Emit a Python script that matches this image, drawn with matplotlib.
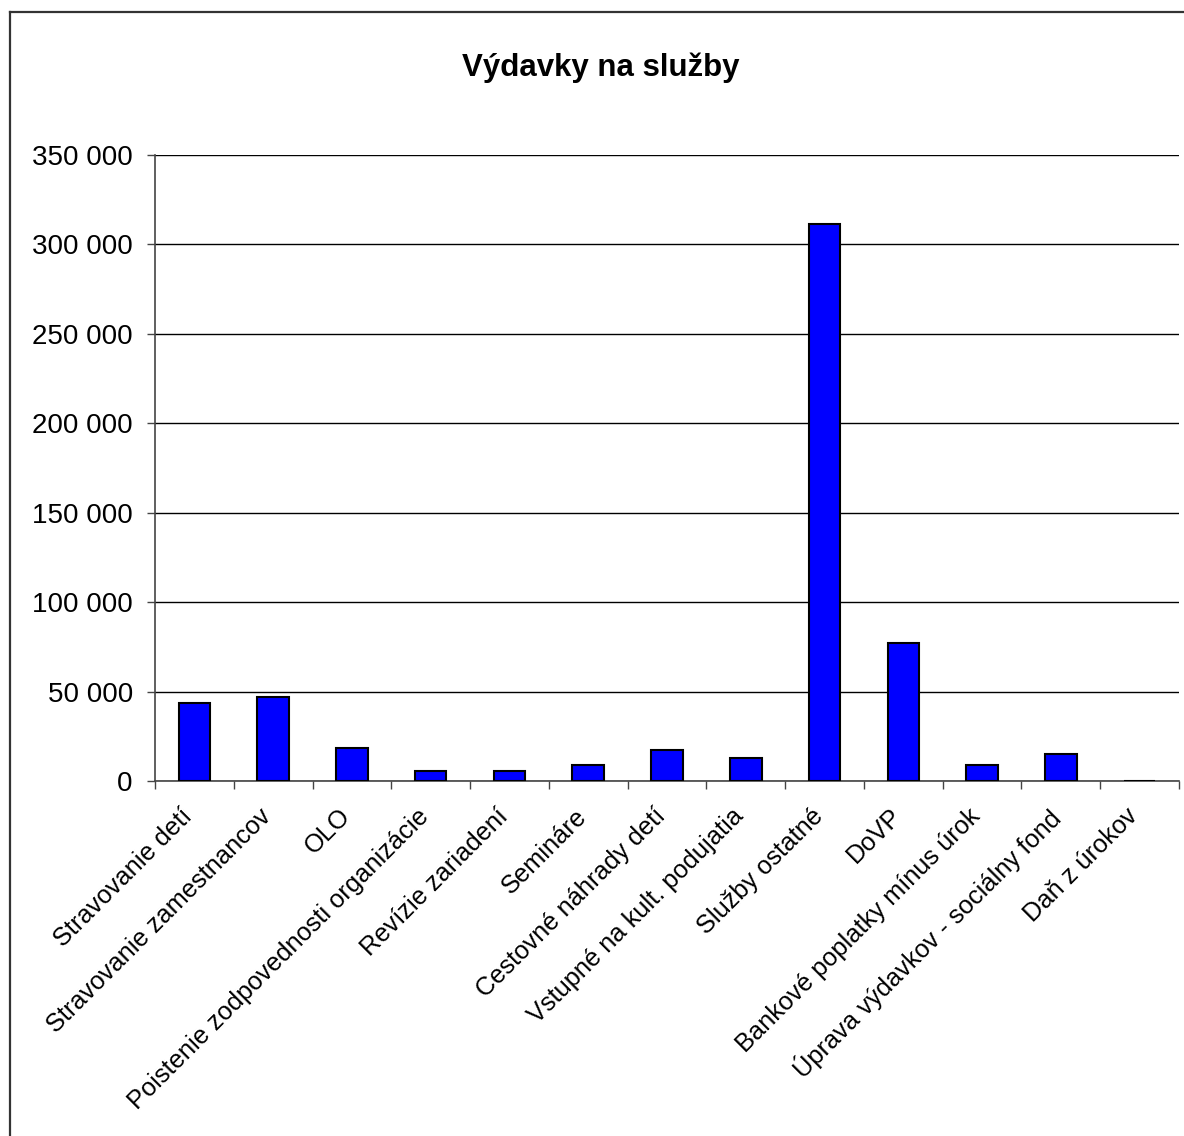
import matplotlib
matplotlib.use("Agg")
import matplotlib.pyplot as plt
import matplotlib.transforms as mtransforms
from matplotlib.lines import Line2D
from matplotlib.ticker import FuncFormatter, MultipleLocator, FixedLocator
import numpy as np

plt.rcParams["font.family"] = ["Liberation Sans", "DejaVu Sans"]

# data
categories = [
    "Stravovanie detí",
    "Stravovanie zamestnancov",
    "OLO",
    "Poistenie zodpovednosti organizácie",
    "Revízie zariadení",
    "Semináre",
    "Cestovné náhrady detí",
    "Vstupné na kult. podujatia",
    "Služby ostatné",
    "DoVP",
    "Bankové poplatky mínus úrok",
    "Úprava výdavkov - sociálny fond",
    "Daň z úrokov",
]
values = [43600, 46800, 18400, 5400, 5400, 8800, 17500, 13100,
          311200, 77400, 8800, 15300, 0]
title = "Výdavky na služby"

W, H = 1184, 1136
fig = plt.figure(figsize=(W / 100, H / 100), dpi=100)

# outer chart-area frame (only top and left edges visible in the crop)
fig.add_artist(Line2D([10 / W, 10 / W], [0, 1 - 12 / H], transform=fig.transFigure,
                      color="#333333", lw=1.6))
fig.add_artist(Line2D([10 / W, 1], [1 - 12 / H, 1 - 12 / H], transform=fig.transFigure,
                      color="#333333", lw=1.6))

x0, x1, ytop, ybot = 155, 1179, 155, 781
ax = fig.add_axes([x0 / W, 1 - ybot / H, (x1 - x0) / W, (ybot - ytop) / H])

x = np.arange(len(categories))
ax.bar(x, values, width=0.4, color="#0000FF", edgecolor="black", linewidth=1.5, zorder=3)

ax.set_xlim(-0.5, len(categories) - 0.5)
ax.set_ylim(0, 350000)
ax.yaxis.set_major_locator(MultipleLocator(50000))
ax.yaxis.set_major_formatter(FuncFormatter(lambda v, p: f"{int(v):,}".replace(",", " ")))
ax.grid(axis="y", color="black", lw=1, zorder=0)
ax.set_axisbelow(True)

for s in ("top", "right"):
    ax.spines[s].set_visible(False)
for s in ("left", "bottom"):
    ax.spines[s].set_color("#444444")
    ax.spines[s].set_linewidth(1.2)

ax.tick_params(axis="y", direction="out", length=6, width=1, labelsize=20, pad=10,
               color="#444444")
ax.set_xticks(x)
ax.set_xticklabels(categories, rotation=45, ha="right", va="top",
                   rotation_mode="anchor", fontsize=18.3)
ax.tick_params(axis="x", which="major", length=0, pad=18)
ax.xaxis.set_minor_locator(FixedLocator(np.arange(-0.5, len(categories), 1.0)))
ax.tick_params(axis="x", which="minor", direction="out", length=6, width=1,
               color="#444444")

# nudge the rotated labels so their ends sit just left of the category centre
shift = mtransforms.ScaledTranslation(-0.14, 0.02, fig.dpi_scale_trans)
for lbl in ax.get_xticklabels():
    lbl.set_transform(lbl.get_transform() + shift)

fig.text(601 / W, 1 - 68 / H, title, ha="center", va="center",
         fontsize=22.5, fontweight="bold")

fig.savefig("out.png", dpi=100, facecolor="white")
